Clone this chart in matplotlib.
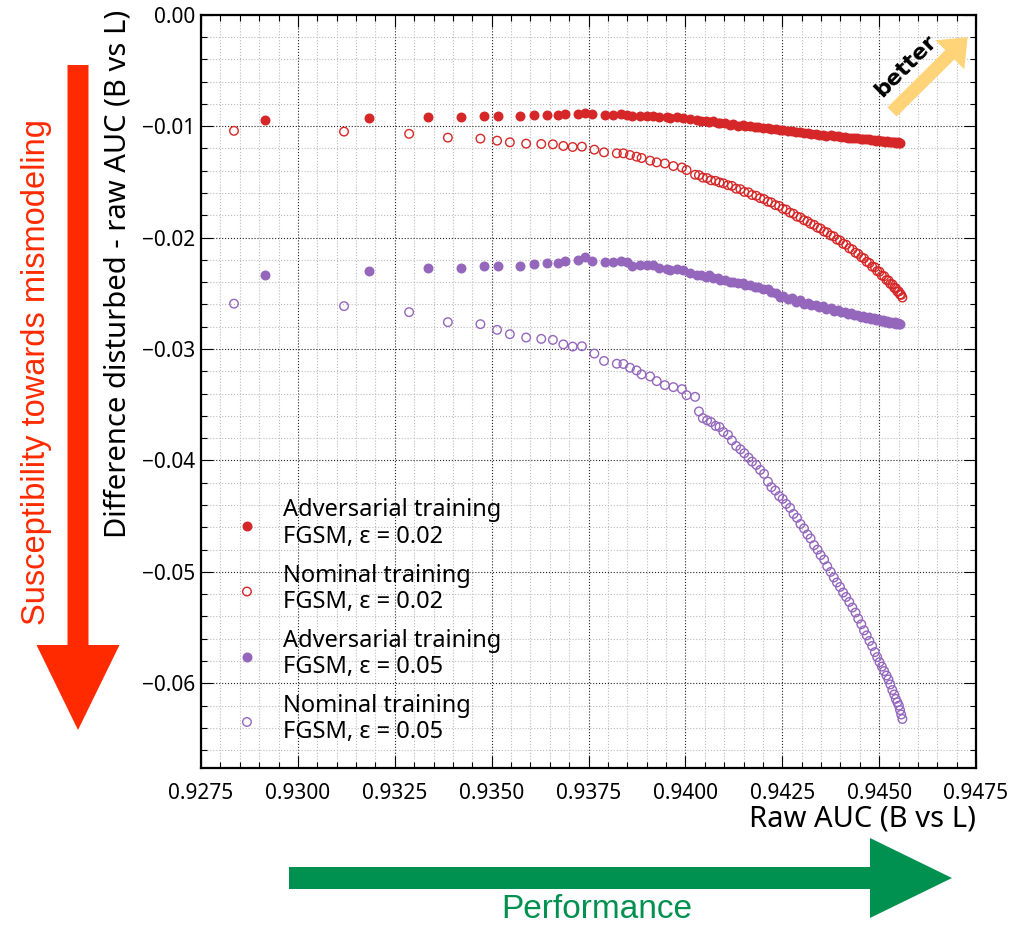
import numpy as np
import matplotlib
matplotlib.use('Agg')
import matplotlib.pyplot as plt
from matplotlib.patches import FancyArrow
from matplotlib.ticker import MultipleLocator, StrMethodFormatter

plt.rcParams['font.family'] = ['Noto Sans', 'DejaVu Sans']

# raw AUC of the adversarially trained models (shared by both epsilons)
x_adv = [0.92915, 0.93183, 0.93337, 0.93422, 0.93480, 0.93516, 0.93574, 0.93609,
         0.93644, 0.93672, 0.93690, 0.93722, 0.93741, 0.93760, 0.93793, 0.93814,
         0.93833, 0.93850, 0.93863, 0.93883, 0.93900, 0.93916, 0.93933, 0.93952,
         0.93960, 0.93978, 0.93995, 0.94012, 0.94029,
         0.94040, 0.94052, 0.94060, 0.94071, 0.94083, 0.94090, 0.94102, 0.94115,
         0.94123, 0.94135, 0.94148, 0.94155, 0.94168, 0.94180, 0.94188, 0.94200,
         0.94212, 0.94220, 0.94233, 0.94245, 0.94252, 0.94265, 0.94276, 0.94285,
         0.94296, 0.94305, 0.94316, 0.94325, 0.94336, 0.94345, 0.94355, 0.94364,
         0.94375, 0.94383, 0.94393, 0.94402, 0.94411, 0.94420, 0.94428, 0.94436,
         0.94444, 0.94452, 0.94459, 0.94466, 0.94473, 0.94480, 0.94486, 0.94492,
         0.94498, 0.94504, 0.94510, 0.94515, 0.94520, 0.94525, 0.94530, 0.94535,
         0.94540, 0.94544, 0.94548, 0.94552, 0.94555]

y_adv_002 = [-0.00943, -0.00925, -0.00916, -0.00916, -0.00910, -0.00910, -0.00910, -0.00904,
             -0.00898, -0.00898, -0.00892, -0.00892, -0.00886, -0.00892, -0.00898, -0.00898,
             -0.00892, -0.00898, -0.00913, -0.00910, -0.00910, -0.00910, -0.00919, -0.00916,
             -0.00928, -0.00919, -0.00925, -0.00934, -0.00943,
             -0.00951, -0.00958, -0.00962, -0.00956, -0.00969, -0.00975, -0.00972, -0.00986,
             -0.00980, -0.00995, -0.00990, -0.01003, -0.00996, -0.01012, -0.01004, -0.01020,
             -0.01016, -0.01027, -0.01026, -0.01039, -0.01031, -0.01047, -0.01043, -0.01055,
             -0.01051, -0.01062, -0.01061, -0.01066, -0.01069, -0.01076, -0.01075, -0.01084,
             -0.01083, -0.01091, -0.01090, -0.01096, -0.01097, -0.01104, -0.01102, -0.01108,
             -0.01107, -0.01114, -0.01113, -0.01119, -0.01118, -0.01125, -0.01122, -0.01129,
             -0.01127, -0.01132, -0.01131, -0.01138, -0.01135, -0.01142, -0.01139, -0.01144,
             -0.01143, -0.01148, -0.01145, -0.01151, -0.01148]

y_adv_005 = [-0.02338, -0.02302, -0.02269, -0.02269, -0.02254, -0.02254, -0.02251, -0.02236,
             -0.02224, -0.02224, -0.02206, -0.02203, -0.02176, -0.02209, -0.02215, -0.02218,
             -0.02206, -0.02221, -0.02254, -0.02242, -0.02248, -0.02248, -0.02272, -0.02284,
             -0.02290, -0.02278, -0.02287, -0.02317, -0.02332,
             -0.02334, -0.02350, -0.02336, -0.02362, -0.02364, -0.02381, -0.02384, -0.02398,
             -0.02396, -0.02412, -0.02412, -0.02426, -0.02428, -0.02446, -0.02446, -0.02463,
             -0.02464, -0.02487, -0.02498, -0.02537, -0.02520, -0.02552, -0.02544, -0.02574,
             -0.02563, -0.02592, -0.02583, -0.02605, -0.02605, -0.02626, -0.02618, -0.02645,
             -0.02635, -0.02658, -0.02652, -0.02668, -0.02665, -0.02684, -0.02676, -0.02694,
             -0.02693, -0.02710, -0.02704, -0.02720, -0.02715, -0.02732, -0.02724, -0.02741,
             -0.02734, -0.02749, -0.02742, -0.02758, -0.02749, -0.02764, -0.02756, -0.02768,
             -0.02762, -0.02774, -0.02766, -0.02777, -0.02771]

# raw AUC of the nominally trained models (shared by both epsilons)
x_nom = [0.92835, 0.93119, 0.93287, 0.93387, 0.93471, 0.93514, 0.93547, 0.93589,
         0.93628, 0.93658, 0.93685, 0.93709, 0.93733, 0.93765, 0.93790, 0.93823,
         0.93840, 0.93857, 0.93874, 0.93887, 0.93909, 0.93926, 0.93947, 0.93969,
         0.93991, 0.94003, 0.94025,
         0.94035, 0.94045, 0.94056, 0.94066, 0.94078, 0.94088, 0.94098, 0.94110,
         0.94120, 0.94131, 0.94142, 0.94152, 0.94163, 0.94172, 0.94183, 0.94193,
         0.94203, 0.94213, 0.94222, 0.94232, 0.94242, 0.94251, 0.94260, 0.94270,
         0.94279, 0.94288, 0.94297, 0.94306, 0.94315, 0.94323, 0.94332, 0.94341,
         0.94349, 0.94358, 0.94366, 0.94375, 0.94383, 0.94391, 0.94399, 0.94407,
         0.94415, 0.94423, 0.94431, 0.94439, 0.94446, 0.94454, 0.94461, 0.94468,
         0.94475, 0.94482, 0.94489, 0.94495, 0.94501, 0.94507, 0.94513, 0.94519,
         0.94524, 0.94529, 0.94534, 0.94539, 0.94543, 0.94547, 0.94551, 0.94554,
         0.94557, 0.94560]

y_nom_002 = [-0.01042, -0.01049, -0.01069, -0.01103, -0.01112, -0.01130, -0.01145, -0.01157,
             -0.01160, -0.01163, -0.01178, -0.01187, -0.01184, -0.01211, -0.01235, -0.01244,
             -0.01244, -0.01259, -0.01274, -0.01286, -0.01310, -0.01325, -0.01335, -0.01358,
             -0.01371, -0.01394, -0.01436,
             -0.01440, -0.01462, -0.01466, -0.01486, -0.01491, -0.01505, -0.01513, -0.01530,
             -0.01536, -0.01561, -0.01566, -0.01590, -0.01594, -0.01618, -0.01625, -0.01646,
             -0.01655, -0.01678, -0.01685, -0.01708, -0.01716, -0.01741, -0.01749, -0.01776,
             -0.01786, -0.01812, -0.01819, -0.01844, -0.01854, -0.01876, -0.01886, -0.01911,
             -0.01919, -0.01946, -0.01954, -0.01981, -0.01989, -0.02018, -0.02026, -0.02056,
             -0.02064, -0.02096, -0.02106, -0.02136, -0.02146, -0.02176, -0.02186, -0.02218,
             -0.02229, -0.02261, -0.02266, -0.02301, -0.02306, -0.02341, -0.02346, -0.02381,
             -0.02384, -0.02416, -0.02419, -0.02451, -0.02454, -0.02484, -0.02484, -0.02511,
             -0.02514, -0.02538]

y_nom_005 = [-0.02593, -0.02615, -0.02669, -0.02759, -0.02777, -0.02828, -0.02867, -0.02897,
             -0.02909, -0.02918, -0.02958, -0.02978, -0.02975, -0.03041, -0.03107, -0.03132,
             -0.03134, -0.03168, -0.03192, -0.03228, -0.03246, -0.03288, -0.03324, -0.03342,
             -0.03360, -0.03414, -0.03429,
             -0.03560, -0.03620, -0.03640, -0.03655, -0.03690, -0.03700, -0.03745, -0.03770,
             -0.03820, -0.03870, -0.03900, -0.03935, -0.03975, -0.04010, -0.04040, -0.04085,
             -0.04120, -0.04190, -0.04240, -0.04270, -0.04320, -0.04345, -0.04390, -0.04425,
             -0.04480, -0.04515, -0.04570, -0.04610, -0.04665, -0.04700, -0.04760, -0.04800,
             -0.04850, -0.04890, -0.04950, -0.05000, -0.05050, -0.05095, -0.05135, -0.05185,
             -0.05225, -0.05270, -0.05320, -0.05365, -0.05420, -0.05470, -0.05525, -0.05570,
             -0.05620, -0.05665, -0.05720, -0.05765, -0.05810, -0.05850, -0.05890, -0.05930,
             -0.05965, -0.06010, -0.06060, -0.06100, -0.06140, -0.06170, -0.06200, -0.06240,
             -0.06280, -0.06320]

labels = ['Adversarial training\nFGSM, \u03b5 = 0.02',
          'Nominal training\nFGSM, \u03b5 = 0.02',
          'Adversarial training\nFGSM, \u03b5 = 0.05',
          'Nominal training\nFGSM, \u03b5 = 0.05']

red = '#d62728'
purple = '#9467bd'

fig = plt.figure(figsize=(10.19, 9.25), dpi=100)
ax = fig.add_axes([0.1973, 0.1697, 0.7605, 0.8144])

ms = 38
ax.scatter(x_adv, y_adv_002, s=ms, color=red, label=labels[0], zorder=3)
ax.scatter(x_nom, y_nom_002, s=ms, facecolors='none', edgecolors=red, linewidths=1.0,
           label=labels[1], zorder=3)
ax.scatter(x_adv, y_adv_005, s=ms, color=purple, label=labels[2], zorder=3)
ax.scatter(x_nom, y_nom_005, s=ms, facecolors='none', edgecolors=purple, linewidths=1.0,
           label=labels[3], zorder=3)

ax.set_xlim(0.9275, 0.9475)
ax.set_ylim(-0.0676, 0.0)
ax.xaxis.set_major_locator(MultipleLocator(0.0025))
ax.xaxis.set_minor_locator(MultipleLocator(0.0005))
ax.yaxis.set_major_locator(MultipleLocator(0.01))
ax.yaxis.set_minor_locator(MultipleLocator(0.002))
ax.xaxis.set_major_formatter(StrMethodFormatter('{x:.4f}'))
ax.yaxis.set_major_formatter(StrMethodFormatter('{x:.2f}'))

ax.tick_params(which='both', direction='in', top=True, right=True, labelsize=15)
ax.tick_params(which='major', length=8.5, width=0.8)
ax.tick_params(which='minor', length=4.3, width=0.8)
ax.tick_params(axis='x', which='major', pad=11)
ax.tick_params(axis='y', which='major', pad=4)
for sp in ax.spines.values():
    sp.set_linewidth(1.6)

ax.grid(which='major', color='#222222', linestyle=':', linewidth=0.8)
ax.grid(which='minor', color='#bbbbbb', linestyle=':', linewidth=0.8)
ax.set_axisbelow(True)

ax.set_xlabel('Raw AUC (B vs L)', fontsize=21, loc='right')
ax.set_ylabel('Difference disturbed - raw AUC (B vs L)', fontsize=21, loc='top')
ax.xaxis.set_label_coords(1.0, -0.048)
ax.yaxis.set_label_coords(-0.088, 1.007)

leg = ax.legend(loc='upper left', bbox_to_anchor=(0.044, 0.358), frameon=False,
                fontsize=17, handlelength=1.0, handletextpad=1.04,
                borderpad=0, borderaxespad=0, labelspacing=0.63, scatterpoints=1)
for t in leg.get_texts():
    t.set_linespacing(1.13)

# annotation layer in pixel units
ov = fig.add_axes([0, 0, 1, 1], zorder=5)
ov.set_xlim(0, 1019)
ov.set_ylim(925, 0)
ov.axis('off')
ov.patch.set_alpha(0)

ov.add_patch(FancyArrow(78, 65, 0, 665, width=21, head_width=83, head_length=85,
                        length_includes_head=True, color='#ff2a00', lw=0))
ov.text(37, 372, 'Susceptibility towards mismodeling', rotation=90, color='#ff2a00',
        fontsize=23.5, ha='center', va='center', family='Liberation Sans')

ov.add_patch(FancyArrow(289, 878, 663, 0, width=22, head_width=80, head_length=82,
                        length_includes_head=True, color='#009150', lw=0))
ov.text(597, 910, 'Performance', color='#009150', fontsize=24, ha='center', va='center',
        family='Liberation Sans')

ov.add_patch(FancyArrow(892, 112, 75.6, -74.8, width=13, head_width=41, head_length=25,
                        length_includes_head=True, color='#ffd479', lw=0))
ov.text(906, 66, 'better', rotation=45, ha='center', va='center', fontsize=16,
        fontweight='bold', family='DejaVu Sans')

fig.savefig('out.png', dpi=100)
